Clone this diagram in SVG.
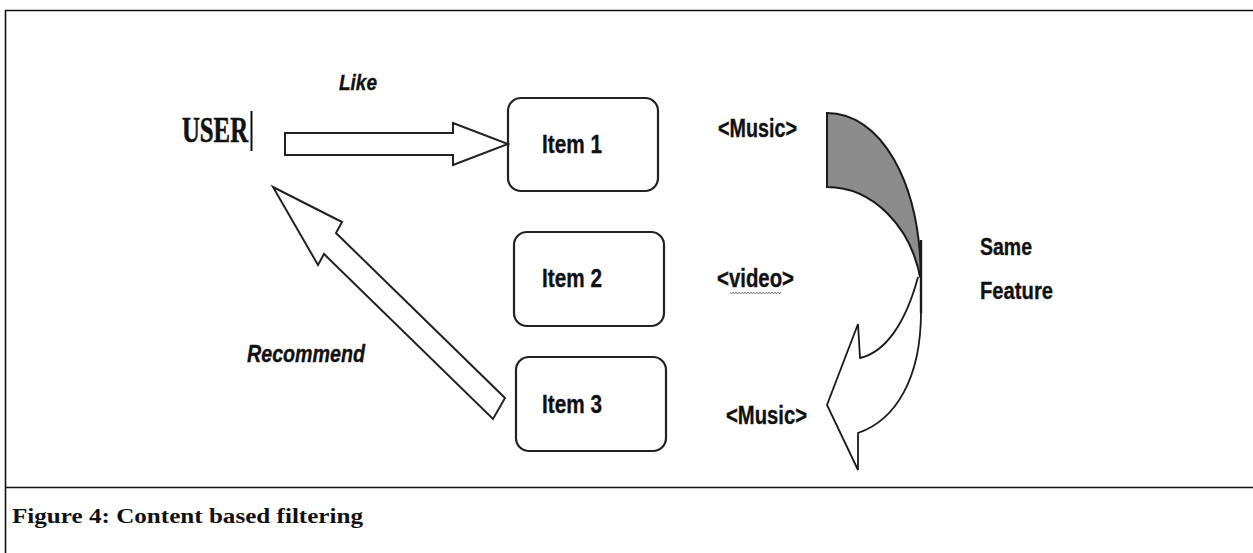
<svg xmlns="http://www.w3.org/2000/svg" width="1253" height="553" viewBox="0 0 1253 553">
  <style>
    .frame { fill: none; stroke: #111; stroke-width: 1.6; }
    .box { fill: #fff; stroke: #222; stroke-width: 2.2; }
    .blk { fill: #fff; stroke: #222; stroke-width: 2; stroke-linejoin: miter; }
    .lbl { font-family: "Liberation Sans", Arial, sans-serif; font-weight: bold; fill: #111; stroke: #111; stroke-width: 0.35; }
    .it { font-style: italic; }
    .serif { font-family: "Liberation Serif", "Times New Roman", serif; font-weight: bold; fill: #111; }
  </style>

  <!-- figure frame -->
  <g id="frame">
    <line class="frame" x1="5.5" y1="10" x2="5.5" y2="553"/>
    <line class="frame" x1="5" y1="10.5" x2="1253" y2="10.5"/>
    <line class="frame" x1="5" y1="487.5" x2="1253" y2="487.5"/>
  </g>

  <!-- user -->
  <g id="user">
    <text class="serif" x="182" y="142" font-size="35" textLength="66" lengthAdjust="spacingAndGlyphs" stroke="#111" stroke-width="0.6">USER</text>
    <line x1="251.5" y1="111" x2="251.5" y2="151" stroke="#111" stroke-width="2"/>
  </g>

  <!-- items -->
  <g id="item1">
    <rect class="box" x="508" y="98" width="150" height="93" rx="13"/>
    <text class="lbl" x="542" y="153" font-size="26" textLength="60" lengthAdjust="spacingAndGlyphs">Item 1</text>
  </g>
  <g id="item2">
    <rect class="box" x="514" y="232" width="150" height="94" rx="13"/>
    <text class="lbl" x="542" y="287" font-size="26" textLength="60" lengthAdjust="spacingAndGlyphs">Item 2</text>
  </g>
  <g id="item3">
    <rect class="box" x="516" y="357" width="150" height="94" rx="13"/>
    <text class="lbl" x="542" y="413" font-size="26" textLength="60" lengthAdjust="spacingAndGlyphs">Item 3</text>
  </g>

  <!-- feature tags -->
  <g id="tags">
    <text class="lbl" x="718" y="137" font-size="25" textLength="79" lengthAdjust="spacingAndGlyphs">&lt;Music&gt;</text>
    <text class="lbl" x="717" y="287" font-size="25" textLength="77" lengthAdjust="spacingAndGlyphs">&lt;video&gt;</text>
    <path d="M730,292 l1.5,2 l1.5,-2 l1.5,2 l1.5,-2 l1.5,2 l1.5,-2 l1.5,2 l1.5,-2 l1.5,2 l1.5,-2 l1.5,2 l1.5,-2 l1.5,2 l1.5,-2 l1.5,2 l1.5,-2 l1.5,2 l1.5,-2 l1.5,2 l1.5,-2 l1.5,2 l1.5,-2 l1.5,2 l1.5,-2 l1.5,2 l1.5,-2 l1.5,2 l1.5,-2 l1.5,2 l1.5,-2 l1.5,2 l1.5,-2 l1.5,2 l1.5,-2" fill="none" stroke="#666" stroke-width="0.8"/>
    <text class="lbl" x="726" y="424" font-size="25" textLength="81" lengthAdjust="spacingAndGlyphs">&lt;Music&gt;</text>
  </g>

  <!-- connectors -->
  <g id="connectors">
    <!-- Like: block arrow user -> item 1 -->
    <path class="blk" d="M285,133 L453,133 L453,123 L508,144 L453,165 L453,155 L285,155 Z"/>
    <text class="lbl it" x="339" y="90" font-size="22" textLength="38" lengthAdjust="spacingAndGlyphs">Like</text>

    <!-- Recommend: block arrow item 3 -> user -->
    <path class="blk" d="M273,187 L342,222 L336,233 L505,398 L493,419 L324,254 L318,265 Z"/>
    <text class="lbl it" x="247" y="362" font-size="24" textLength="118" lengthAdjust="spacingAndGlyphs">Recommend</text>

    <!-- Same feature: curved arrow -->
    <path d="M827,113 C880,113 921,180 921,282 C912,226 872,187 827,187 Z" fill="#8c8c8c" stroke="#1a1a1a" stroke-width="2"/>
    <path d="M918,277 C906,322 886,352 860,358 L858,324 L827,405 L858,470 L858,433 C896,420 921,378 921,312 L921,278" fill="#fff" stroke="#1a1a1a" stroke-width="1.8" stroke-linejoin="miter"/>
    <line x1="921" y1="240" x2="921" y2="313" stroke="#1a1a1a" stroke-width="2.4"/>
    <text class="lbl" x="980" y="255" font-size="24" textLength="52" lengthAdjust="spacingAndGlyphs">Same</text>
    <text class="lbl" x="980" y="299" font-size="24" textLength="73" lengthAdjust="spacingAndGlyphs">Feature</text>
  </g>

  <!-- caption -->
  <text class="serif" x="12" y="523" font-size="20" textLength="351" lengthAdjust="spacingAndGlyphs">Figure 4: Content based filtering</text>
</svg>
